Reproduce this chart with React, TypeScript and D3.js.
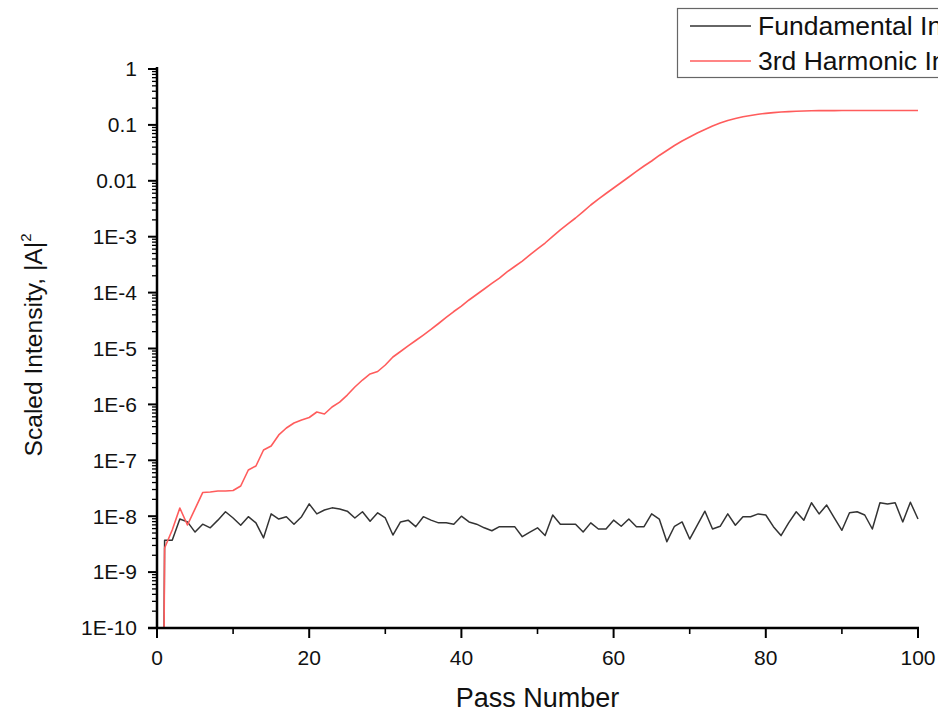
import React from "react";
import * as d3 from "d3";

const passes: number[] = Array.from({ length: 101 }, (_, i) => i);

const fundamental: number[] = [
  1e-30, 3.7e-9, 3.7e-9, 8.9e-9, 7.9e-9, 5.2e-9, 7.2e-9, 6.2e-9, 8.5e-9, 1.2e-8,
  9.3e-9, 6.9e-9, 9.8e-9, 7.6e-9, 4.1e-9, 1.1e-8, 8.9e-9, 9.8e-9, 7.2e-9, 9.8e-9,
  1.66e-8, 1.1e-8, 1.29e-8, 1.41e-8, 1.35e-8, 1.23e-8, 9.3e-9, 1.2e-8, 8.1e-9, 1.15e-8,
  9.3e-9, 4.6e-9, 7.9e-9, 8.5e-9, 6.5e-9, 9.8e-9, 8.5e-9, 7.6e-9, 7.6e-9, 7.2e-9,
  1.0e-8, 7.9e-9, 7.2e-9, 6.2e-9, 5.5e-9, 6.5e-9, 6.5e-9, 6.5e-9, 4.3e-9, 5.2e-9,
  6.2e-9, 4.5e-9, 1.05e-8, 7.2e-9, 7.2e-9, 7.2e-9, 5.2e-9, 7.6e-9, 5.9e-9, 5.9e-9,
  8.5e-9, 6.6e-9, 8.9e-9, 6.5e-9, 6.5e-9, 1.1e-8, 8.9e-9, 3.5e-9, 6.6e-9, 7.9e-9,
  3.9e-9, 6.9e-9, 1.23e-8, 5.9e-9, 6.6e-9, 1.1e-8, 6.9e-9, 9.8e-9, 9.8e-9, 1.1e-8,
  1.05e-8, 6.5e-9, 4.5e-9, 7.6e-9, 1.2e-8, 8.5e-9, 1.74e-8, 1.1e-8, 1.58e-8, 9.3e-9,
  5.6e-9, 1.15e-8, 1.2e-8, 1.05e-8, 5.9e-9, 1.74e-8, 1.66e-8, 1.74e-8, 7.9e-9, 1.78e-8,
  8.9e-9,
];

const harmonic3: number[] = [
  1e-30, 2.7e-9, 5.66e-9, 1.4e-8, 6.96e-9, 1.35e-8, 2.65e-8, 2.71e-8, 2.82e-8, 2.82e-8,
  2.88e-8, 3.47e-8, 6.7e-8, 7.91e-8, 1.53e-7, 1.8e-7, 2.84e-7, 3.78e-7, 4.65e-7, 5.26e-7,
  5.83e-7, 7.31e-7, 6.73e-7, 8.98e-7, 1.1e-6, 1.47e-6, 2.05e-6, 2.73e-6, 3.5e-6, 3.88e-6,
  5.07e-6, 7.05e-6, 8.83e-6, 1.11e-5, 1.39e-5, 1.74e-5, 2.19e-5, 2.8e-5, 3.59e-5, 4.59e-5,
  5.75e-5, 7.38e-5, 9.25e-5, 1.16e-4, 1.46e-4, 1.82e-4, 2.34e-4, 2.93e-4, 3.67e-4, 4.71e-4,
  6.03e-4, 7.71e-4, 1.01e-3, 1.32e-3, 1.69e-3, 2.16e-3, 2.82e-3, 3.69e-3, 4.72e-3, 5.93e-3,
  7.43e-3, 9.33e-3, 1.17e-2, 1.47e-2, 1.84e-2, 2.26e-2, 2.84e-2, 3.48e-2, 4.28e-2, 5.15e-2,
  6.08e-2, 7.16e-2, 8.27e-2, 9.55e-2, 0.108, 0.12, 0.13, 0.14, 0.147, 0.155,
  0.161, 0.166, 0.17, 0.173, 0.175, 0.177, 0.179, 0.18, 0.18, 0.18,
  0.181, 0.181, 0.181, 0.181, 0.181, 0.181, 0.181, 0.181, 0.181, 0.181,
  0.181,
];

const xTicks: number[] = [0, 20, 40, 60, 80, 100];
const xMinorTicks: number[] = [10, 30, 50, 70, 90];
const yTickValues: number[] = [1, 0.1, 0.01, 1e-3, 1e-4, 1e-5, 1e-6, 1e-7, 1e-8, 1e-9, 1e-10];
const yTickLabels: string[] = ["1", "0.1", "0.01", "1E-3", "1E-4", "1E-5", "1E-6", "1E-7", "1E-8", "1E-9", "1E-10"];
const seriesNames: string[] = ["Fundamental Intensity", "3rd Harmonic Intensity"];
const seriesColors: string[] = ["#333333", "#ff5c5c"];

const FONT = "'Liberation Sans', Arial, Helvetica, sans-serif";

export default function App() {
  const W = 938, H = 712;
  const left = 157, right = 918, top = 69, bottom = 628;
  const x = d3.scaleLinear().domain([0, 100]).range([left, right]);
  const y = d3.scaleLog().domain([1e-10, 1]).range([bottom, top]);

  const line = d3
    .line<number>()
    .x((_, i) => x(passes[i]))
    .y((d) => y(d));

  const minorY: number[] = [];
  for (let e = -10; e < 0; e++) {
    for (let m = 2; m <= 9; m++) minorY.push(m * Math.pow(10, e));
  }

  return (
    <svg
      width={W}
      height={H}
      style={{ position: "absolute", left: 0, top: 0, background: "#fff" }}
      fontFamily={FONT}
    >
      <defs>
        <clipPath id="plot">
          <rect x={left} y={top - 5} width={right - left + 2} height={bottom - top + 5} />
        </clipPath>
      </defs>

      <g clipPath="url(#plot)" fill="none" strokeLinejoin="round">
        <path d={line(fundamental) || ""} stroke={seriesColors[0]} strokeWidth={1.5} />
        <path d={line(harmonic3) || ""} stroke={seriesColors[1]} strokeWidth={1.6} />
      </g>

      {/* Y axis */}
      <line x1={left} x2={left} y1={top - 2} y2={bottom + 1} stroke="#000" strokeWidth={2.5} />
      {yTickValues.map((v, i) => (
        <g key={"yt" + i}>
          <line x1={left - 9} x2={left} y1={y(v)} y2={y(v)} stroke="#000" strokeWidth={2} />
          <text x={137} y={y(v)} dy="0.35em" textAnchor="end" fontSize={21} fill="#111">
            {yTickLabels[i]}
          </text>
        </g>
      ))}
      {minorY.map((v, i) => (
        <line key={"ym" + i} x1={left - 5} x2={left} y1={y(v)} y2={y(v)} stroke="#000" strokeWidth={1.3} />
      ))}

      {/* X axis */}
      <line x1={left - 9} x2={right + 1} y1={bottom} y2={bottom} stroke="#000" strokeWidth={2.5} />
      {xTicks.map((t) => (
        <g key={"xt" + t}>
          <line x1={x(t)} x2={x(t)} y1={bottom} y2={bottom + 10} stroke="#000" strokeWidth={2} />
          <text x={x(t)} y={665} textAnchor="middle" fontSize={21} fill="#111">
            {t}
          </text>
        </g>
      ))}
      {xMinorTicks.map((t) => (
        <line key={"xm" + t} x1={x(t)} x2={x(t)} y1={bottom} y2={bottom + 6} stroke="#000" strokeWidth={1.6} />
      ))}

      {/* Axis titles */}
      <text x={(left + right) / 2} y={707} textAnchor="middle" fontSize={27} fill="#111">
        Pass Number
      </text>
      <text transform={`translate(42, ${345}) rotate(-90)`} textAnchor="middle" fontSize={24.6} fill="#111">
        Scaled Intensity, |A|
        <tspan dy={-11} fontSize={15}>2</tspan>
      </text>

      {/* Legend */}
      <rect x={677.5} y={8.5} width={300} height={69} fill="#fff" stroke="#666" strokeWidth={1.2} />
      {seriesNames.map((n, i) => (
        <g key={"lg" + i}>
          <line x1={690} x2={751} y1={26 + i * 35} y2={26 + i * 35} stroke={seriesColors[i]} strokeWidth={1.6} />
          <text x={758} y={35 + i * 35} fontSize={26.5} fill="#111">
            {n}
          </text>
        </g>
      ))}
    </svg>
  );
}
